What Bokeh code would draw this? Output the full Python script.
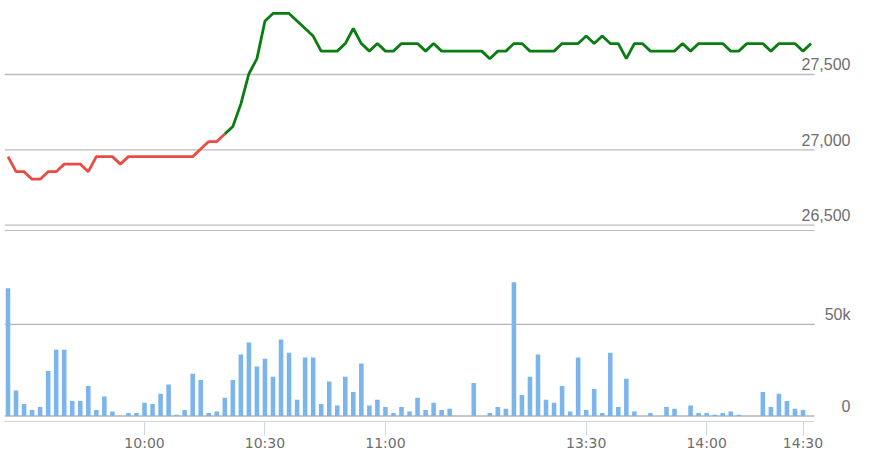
from bokeh.embed import file_html
from bokeh.layouts import column
from bokeh.models import FixedTicker, Label, Range1d
from bokeh.plotting import figure
from bokeh.resources import INLINE

# samples
price = [26955, 26855, 26855, 26805, 26805, 26855, 26855, 26905, 26905, 26905,
         26855, 26955, 26955, 26955, 26905, 26955, 26955, 26955, 26955, 26955,
         26955, 26955, 26955, 26955, 27005, 27055, 27055, 27105, 27155, 27305,
         27505, 27605, 27855, 27905, 27905, 27905, 27855, 27805, 27755, 27655,
         27655, 27655, 27705, 27805, 27705, 27655, 27705, 27655, 27655, 27705,
         27705, 27705, 27655, 27705, 27655, 27655, 27655, 27655, 27655, 27655,
         27605, 27655, 27655, 27705, 27705, 27655, 27655, 27655, 27655, 27705,
         27705, 27705, 27755, 27705, 27755, 27705, 27705, 27605, 27705, 27705,
         27655, 27655, 27655, 27655, 27705, 27655, 27705, 27705, 27705, 27705,
         27655, 27655, 27705, 27705, 27705, 27655, 27705, 27705, 27705, 27655,
         27705]
red_until = 27  # line turns green from this sample on

volume = [69700, 13900, 6600, 3300, 4900, 24600, 36100, 36100, 8200, 8200,
          16400, 3300, 10600, 2400, 0, 1600, 1600, 7300, 6600, 12200,
          17200, 700, 3300, 23000, 19700, 1600, 2400, 9900, 19700, 33600,
          40100, 27000, 31200, 21400, 41800, 34500, 8900, 31900, 31900, 6600,
          18800, 5700, 21400, 13100, 28600, 5700, 8900, 4900, 1600, 4900,
          2400, 9900, 3300, 7300, 3300, 4000, 0, 0, 18000, 0,
          1600, 4900, 4000, 73000, 11500, 21400, 33600, 8900, 7300, 16400,
          2400, 31900, 3300, 14800, 1600, 34500, 4900, 20400, 2400, 0,
          1600, 0, 4900, 4000, 0, 5700, 1600, 1600, 700, 1600,
          2400, 700, 0, 0, 13100, 4900, 12200, 8200, 4000, 3300]

time_ticks = [17, 32, 47, 72, 87, 99]
time_labels = ["10:00", "10:30", "11:00", "13:30", "14:00", "14:30"]
price_ticks = [26500, 27000, 27500]
price_labels = ["26,500", "27,000", "27,500"]
volume_ticks = [0, 50000]
volume_labels = ["0", "50k"]
price_floor = 26463  # bottom edge of the price pane

GRID = "#bcbcbc"
LABEL = "#6e6e6e"

# the frame runs on under the value labels; rules and axis stop at x_end
x_start, x_end = -0.436, 100.44
x_range = Range1d(x_start, 106.16)


def add_rules(p, ticks, color):
    p.segment(x0=x_start, x1=x_end, y0=ticks, y1=ticks, line_color=color,
              line_width=1.4, level="underlay")


def add_value_labels(p, ticks, labels):
    for tick, text in zip(ticks, labels):
        p.add_layout(Label(x=846, x_units="screen", y=tick, y_units="data", y_offset=10,
                           text=text, text_align="right", text_baseline="alphabetic",
                           text_font="Liberation Sans", text_font_size="16px",
                           text_color=LABEL))


top = figure(frame_width=856, frame_height=231, output_backend="svg", toolbar_location=None,
             x_range=x_range, y_range=Range1d(26458, 27991),
             x_axis_location=None, y_axis_location=None,
             min_border_left=4, min_border_right=0, min_border_top=0, min_border_bottom=0)
top.outline_line_color = None
top.grid.visible = False
add_rules(top, price_ticks + [price_floor], GRID)
top.line(list(range(red_until + 1)), price[:red_until + 1], line_color="#ea4b45", line_width=2.8)
top.line(list(range(red_until, len(price))), price[red_until:], line_color="#0a7d12", line_width=2.8)
add_value_labels(top, price_ticks, price_labels)

bottom = figure(frame_width=856, frame_height=190, output_backend="svg", toolbar_location=None,
                x_range=x_range, y_range=Range1d(-3000, 100700),
                y_axis_location=None,
                min_border_left=4, min_border_right=0, min_border_top=0, min_border_bottom=0)
bottom.outline_line_color = None
bottom.grid.visible = False
add_rules(bottom, volume_ticks, "#b4b4b4")
bottom.vbar(x=list(range(len(volume))), top=volume, bottom=0, width=0.57,
            fill_color="#7cb5ec", line_color=None)
add_value_labels(bottom, volume_ticks, volume_labels)

axis = bottom.xaxis[0]
axis.ticker = FixedTicker(ticks=time_ticks)
axis.major_label_overrides = dict(zip(time_ticks, time_labels))
axis.bounds = (x_start, x_end)
axis.axis_line_color = "#ccd6eb"
axis.major_tick_line_color = "#ccd6eb"
axis.major_tick_out = 14
axis.major_tick_in = 0
axis.minor_tick_line_color = None
axis.major_label_standoff = -1
axis.major_label_text_font = "DejaVu Sans"
axis.major_label_text_font_size = "14px"
axis.major_label_text_color = LABEL

page = column(top, bottom, spacing=0)

open("out.html", "w").write(file_html(page, INLINE))
